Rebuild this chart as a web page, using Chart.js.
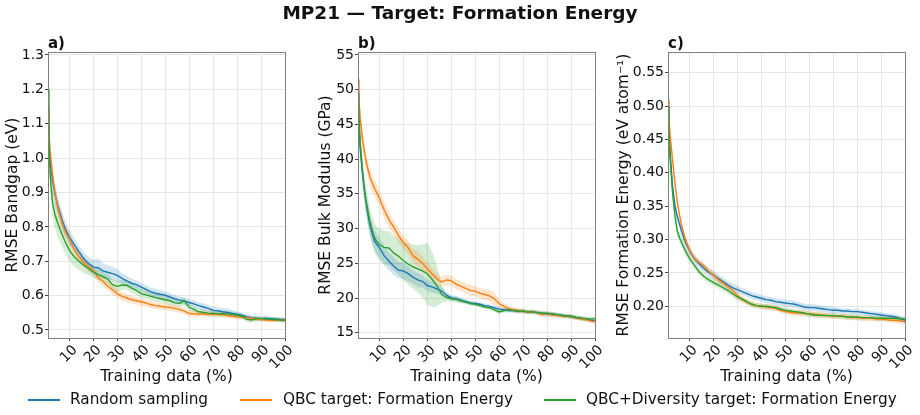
<!DOCTYPE html>
<html>
<head>
<meta charset="utf-8">
<script src="https://cdn.jsdelivr.net/npm/chart.js@4.4.1/dist/chart.umd.min.js"></script>
<style>
  body { margin: 0; background: #fff; font-family: 'DejaVu Sans', sans-serif; color: #111; }
  #wrap { position: relative; width: 920px; height: 415px; overflow: hidden; }
  canvas { position: absolute; left: 0; top: 0; }
  .txt { position: absolute; white-space: nowrap; line-height: 1; }
  #title { left: 0; top: 4px; width: 920px; text-align: center; font-weight: bold; font-size: 18.5px; }
  .panel { top: 36px; font-weight: bold; font-size: 15px; }
  .leg { top: 392px; font-size: 15.3px; }
  .sw { position: absolute; top: 399px; height: 2px; }
</style>
</head>
<body>
<div id="wrap">
  <canvas id="ca" width="920" height="415"></canvas>
  <canvas id="cb" width="920" height="415"></canvas>
  <canvas id="cc" width="920" height="415"></canvas>
  <div id="title" class="txt">MP21 — Target: Formation Energy</div>
  <div class="txt panel" style="left:48px">a)</div>
  <div class="txt panel" style="left:358px">b)</div>
  <div class="txt panel" style="left:668px">c)</div>
  <div class="sw" style="left:28px;width:32px;background:#1f77b4"></div>
  <div class="txt leg" style="left:70px">Random sampling</div>
  <div class="sw" style="left:240px;width:32px;background:#ff7f0e"></div>
  <div class="txt leg" style="left:283px">QBC target: Formation Energy</div>
  <div class="sw" style="left:544px;width:32px;background:#2ca02c"></div>
  <div class="txt leg" style="left:586px">QBC+Diversity target: Formation Energy</div>
</div>
<script>
// training data (%) at which each run was evaluated
const XS = [1.1, 1.5, 2, 3, 4, 5, 6, 7, 8, 9, 10,
  12, 14, 16, 18, 20, 22, 24, 26, 28, 30,
  32, 34, 36, 38, 40, 42, 44, 46, 48, 50,
  52, 54, 56, 58, 60, 62, 64, 66, 68, 70,
  72, 74, 76, 78, 80, 82, 84, 86, 88, 90,
  92, 94, 96, 98, 100];
const XTICKS = [10, 20, 30, 40, 50, 60, 70, 80, 90, 100];

// a) bandgap
const A_YTICKS = [0.5, 0.6, 0.7, 0.8, 0.9, 1.0, 1.1, 1.2, 1.3];
const A_RAND = [1.10, 1.03, 0.985, 0.935, 0.895, 0.867, 0.844, 0.82, 0.80, 0.785, 0.771,
  0.749, 0.728, 0.708, 0.693, 0.683, 0.681, 0.672, 0.668, 0.664, 0.659,
  0.65, 0.643, 0.636, 0.632, 0.625, 0.618, 0.611, 0.607, 0.604, 0.601,
  0.596, 0.591, 0.587, 0.584, 0.580, 0.576, 0.571, 0.567, 0.563, 0.557,
  0.556, 0.553, 0.551, 0.548, 0.546, 0.543, 0.539, 0.536, 0.534, 0.533,
  0.534, 0.533, 0.532, 0.531, 0.530];
const A_QBC = [1.15, 1.07, 1.02, 0.95, 0.90, 0.862, 0.836, 0.812, 0.792, 0.778, 0.766,
  0.735, 0.713, 0.697, 0.683, 0.674, 0.652, 0.642, 0.628, 0.617, 0.606,
  0.598, 0.593, 0.588, 0.585, 0.582, 0.578, 0.574, 0.571, 0.569, 0.567,
  0.566, 0.563, 0.56, 0.555, 0.548, 0.547, 0.546, 0.547, 0.546, 0.546,
  0.545, 0.544, 0.542, 0.540, 0.538, 0.537, 0.536, 0.534, 0.532, 0.530,
  0.529, 0.528, 0.529, 0.528, 0.528];
const A_DIV = [1.2, 1.06, 0.95, 0.87, 0.835, 0.815, 0.795, 0.778, 0.761, 0.746, 0.732,
  0.713, 0.70, 0.688, 0.679, 0.669, 0.661, 0.656, 0.648, 0.632, 0.627,
  0.631, 0.63, 0.622, 0.615, 0.606, 0.602, 0.598, 0.594, 0.591, 0.588,
  0.585, 0.579, 0.578, 0.585, 0.566, 0.560, 0.553, 0.551, 0.549, 0.548,
  0.547, 0.548, 0.547, 0.545, 0.543, 0.54, 0.531, 0.529, 0.533, 0.533,
  0.532, 0.531, 0.530, 0.529, 0.528];
const A_RAND_SD = [0.03, 0.03, 0.03, 0.03, 0.03, 0.028, 0.025, 0.025, 0.022, 0.02, 0.02,
  0.018, 0.018, 0.018, 0.02, 0.022, 0.028, 0.022, 0.02, 0.02, 0.018,
  0.015, 0.015, 0.014, 0.013, 0.012, 0.012, 0.012, 0.012, 0.012, 0.012,
  0.011, 0.011, 0.011, 0.01, 0.01, 0.01, 0.01, 0.01, 0.01, 0.01,
  0.009, 0.01, 0.012, 0.01, 0.008, 0.008, 0.008, 0.007, 0.007, 0.006,
  0.006, 0.006, 0.006, 0.006, 0.006];
const A_QBC_SD = [0.03, 0.03, 0.025, 0.02, 0.02, 0.02, 0.018, 0.016, 0.015, 0.015, 0.015,
  0.014, 0.014, 0.013, 0.013, 0.013, 0.013, 0.013, 0.013, 0.013, 0.012,
  0.012, 0.012, 0.011, 0.011, 0.011, 0.01, 0.01, 0.01, 0.01, 0.01,
  0.01, 0.01, 0.01, 0.01, 0.009, 0.009, 0.008, 0.008, 0.008, 0.008,
  0.008, 0.008, 0.007, 0.007, 0.007, 0.007, 0.007, 0.007, 0.006, 0.006,
  0.006, 0.006, 0.006, 0.006, 0.006];
const A_DIV_SD = [0.04, 0.04, 0.04, 0.04, 0.04, 0.04, 0.038, 0.036, 0.035, 0.033, 0.03,
  0.028, 0.025, 0.022, 0.02, 0.018, 0.016, 0.015, 0.016, 0.016, 0.015,
  0.015, 0.014, 0.014, 0.013, 0.013, 0.012, 0.012, 0.012, 0.011, 0.011,
  0.011, 0.011, 0.011, 0.012, 0.01, 0.01, 0.009, 0.009, 0.009, 0.008,
  0.008, 0.008, 0.008, 0.008, 0.008, 0.008, 0.008, 0.008, 0.008, 0.007,
  0.007, 0.007, 0.007, 0.007, 0.007];

// b) bulk modulus
const B_YTICKS = [15, 20, 25, 30, 35, 40, 45, 50, 55];
const B_RAND = [48, 45, 41.6, 37.8, 34.9, 32.5, 30.6, 29.3, 28.2, 27.7, 27.3,
  26.1, 25.3, 24.6, 24.0, 23.9, 23.5, 23.0, 22.6, 22.4, 21.8,
  21.6, 21.3, 21.0, 20.4, 20.0, 19.9, 19.7, 19.5, 19.3, 19.2,
  19.1, 18.9, 18.8, 18.6, 18.4, 18.3, 18.2, 18.2, 18.1, 18.1,
  18.0, 18.0, 17.9, 17.8, 17.7, 17.7, 17.6, 17.5, 17.4, 17.3,
  17.2, 17.1, 17.0, 16.8, 16.7];
const B_QBC = [51.5, 48.5, 45.9, 42.8, 40.6, 38.9, 37.5, 36.6, 35.8, 35.1, 34.4,
  32.7, 31.3, 30.2, 29.0, 28.0, 27.3, 26.1, 25.6, 25.0, 24.2,
  23.5, 22.8, 22.3, 22.6, 22.5, 22.0, 21.7, 21.4, 21.1, 21.0,
  20.7, 20.5, 20.3, 19.9, 19.2, 18.8, 18.5, 18.3, 18.2, 18.1,
  18.0, 18.0, 17.9, 17.6, 17.8, 17.5, 17.5, 17.4, 17.4, 17.3,
  17.1, 17.0, 16.9, 16.7, 16.6];
const B_DIV = [49.5, 46, 42.5, 38.2, 34.9, 33.0, 31.1, 29.8, 28.7, 28.1, 27.7,
  27.3, 27.2, 26.5, 26.0, 25.4, 24.9, 24.5, 24.2, 23.9, 23.5,
  22.7, 21.8, 20.5, 20.1, 19.9, 19.8, 19.6, 19.4, 19.2, 19.1,
  18.9, 18.7, 18.6, 18.3, 18.0, 18.2, 18.3, 18.2, 18.1, 18.1,
  18.0, 18.0, 17.9, 17.8, 17.8, 17.7, 17.6, 17.5, 17.4, 17.4,
  17.2, 17.1, 17.0, 17.0, 17.0];
const B_RAND_SD = [1.5, 1.5, 1.5, 1.5, 1.5, 1.5, 1.5, 1.5, 1.5, 1.4, 1.4,
  1.4, 1.3, 1.3, 1.2, 1.2, 1.1, 1.0, 1.0, 0.9, 0.8,
  0.8, 0.7, 0.6, 0.5, 0.4, 0.4, 0.4, 0.3, 0.3, 0.3,
  0.3, 0.3, 0.3, 0.3, 0.3, 0.3, 0.3, 0.3, 0.3, 0.3,
  0.3, 0.3, 0.3, 0.3, 0.3, 0.3, 0.3, 0.3, 0.3, 0.3,
  0.3, 0.3, 0.3, 0.3, 0.3];
const B_QBC_SD = [1.5, 1.5, 1.5, 1.4, 1.3, 1.2, 1.2, 1.2, 1.2, 1.2, 1.2,
  1.2, 1.1, 1.0, 1.0, 1.0, 1.0, 1.0, 1.1, 1.0, 0.9,
  0.8, 0.8, 0.8, 0.8, 0.7, 0.7, 0.7, 0.7, 0.8, 0.7,
  0.7, 0.8, 0.8, 0.9, 0.6, 0.5, 0.4, 0.4, 0.4, 0.3,
  0.3, 0.3, 0.3, 0.4, 0.4, 0.4, 0.3, 0.3, 0.3, 0.3,
  0.3, 0.3, 0.3, 0.3, 0.3];
const B_DIV_SD = [1.5, 1.8, 2.0, 2.0, 2.0, 2.0, 2.0, 2.0, 2.0, 2.2, 2.3,
  2.4, 2.5, 2.5, 2.6, 2.8, 3.0, 3.2, 3.4, 3.8, 4.5,
  4.0, 3.0, 1.2, 0.6, 0.4, 0.4, 0.4, 0.3, 0.3, 0.3,
  0.3, 0.3, 0.3, 0.3, 0.3, 0.3, 0.3, 0.3, 0.3, 0.3,
  0.3, 0.3, 0.3, 0.3, 0.3, 0.3, 0.3, 0.3, 0.3, 0.3,
  0.3, 0.3, 0.3, 0.3, 0.3];

// c) formation energy
const C_YTICKS = [0.20, 0.25, 0.30, 0.35, 0.40, 0.45, 0.50, 0.55];
const C_RAND = [0.50, 0.47, 0.43, 0.38, 0.35, 0.334, 0.322, 0.31, 0.299, 0.291, 0.284,
  0.272, 0.264, 0.257, 0.251, 0.247, 0.242, 0.237, 0.232, 0.228, 0.225,
  0.222, 0.219, 0.216, 0.214, 0.212, 0.210, 0.209, 0.207, 0.206, 0.205,
  0.204, 0.203, 0.201, 0.199, 0.198, 0.198, 0.197, 0.196, 0.195, 0.194,
  0.194, 0.193, 0.193, 0.192, 0.192, 0.191, 0.190, 0.189, 0.188, 0.187,
  0.186, 0.185, 0.184, 0.182, 0.179];
const C_QBC = [0.51, 0.48, 0.455, 0.42, 0.385, 0.355, 0.335, 0.318, 0.305, 0.294, 0.285,
  0.272, 0.266, 0.261, 0.253, 0.247, 0.240, 0.235, 0.230, 0.224, 0.216,
  0.210, 0.206, 0.203, 0.201, 0.200, 0.199, 0.198, 0.197, 0.194, 0.192,
  0.191, 0.190, 0.190, 0.189, 0.189, 0.188, 0.187, 0.187, 0.186, 0.185,
  0.185, 0.185, 0.184, 0.183, 0.183, 0.182, 0.182, 0.182, 0.181, 0.181,
  0.180, 0.179, 0.179, 0.178, 0.177];
const C_DIV = [0.50, 0.46, 0.42, 0.37, 0.335, 0.312, 0.302, 0.294, 0.286, 0.279, 0.272,
  0.262, 0.252, 0.245, 0.240, 0.236, 0.232, 0.228, 0.224, 0.219, 0.214,
  0.211, 0.207, 0.203, 0.201, 0.200, 0.200, 0.199, 0.198, 0.196, 0.194,
  0.193, 0.192, 0.191, 0.190, 0.188, 0.187, 0.187, 0.186, 0.186, 0.186,
  0.185, 0.185, 0.184, 0.184, 0.184, 0.183, 0.183, 0.183, 0.182, 0.182,
  0.182, 0.182, 0.182, 0.181, 0.181];
const C_RAND_SD = [0.01, 0.01, 0.008, 0.008, 0.008, 0.007, 0.007, 0.007, 0.007, 0.007, 0.007,
  0.006, 0.006, 0.006, 0.006, 0.006, 0.006, 0.006, 0.006, 0.006, 0.006,
  0.005, 0.005, 0.005, 0.005, 0.005, 0.005, 0.005, 0.005, 0.005, 0.005,
  0.005, 0.005, 0.005, 0.005, 0.005, 0.005, 0.005, 0.005, 0.005, 0.005,
  0.004, 0.004, 0.004, 0.004, 0.004, 0.004, 0.004, 0.004, 0.004, 0.004,
  0.004, 0.004, 0.004, 0.004, 0.004];
const C_QBC_SD = [0.012, 0.01, 0.008, 0.007, 0.006, 0.006, 0.006, 0.005, 0.005, 0.005, 0.005,
  0.005, 0.005, 0.005, 0.005, 0.005, 0.005, 0.005, 0.005, 0.005, 0.005,
  0.004, 0.004, 0.004, 0.004, 0.004, 0.004, 0.004, 0.004, 0.004, 0.004,
  0.004, 0.004, 0.004, 0.004, 0.004, 0.004, 0.004, 0.004, 0.004, 0.004,
  0.004, 0.004, 0.004, 0.004, 0.004, 0.004, 0.004, 0.004, 0.004, 0.004,
  0.004, 0.004, 0.004, 0.004, 0.004];
const C_DIV_SD = [0.01, 0.01, 0.008, 0.008, 0.008, 0.008, 0.007, 0.007, 0.006, 0.006, 0.006,
  0.005, 0.005, 0.005, 0.005, 0.005, 0.005, 0.005, 0.005, 0.005, 0.005,
  0.004, 0.004, 0.004, 0.004, 0.004, 0.004, 0.004, 0.004, 0.004, 0.004,
  0.004, 0.004, 0.004, 0.004, 0.004, 0.004, 0.004, 0.004, 0.004, 0.004,
  0.004, 0.004, 0.004, 0.004, 0.004, 0.004, 0.004, 0.004, 0.004, 0.004,
  0.004, 0.004, 0.004, 0.004, 0.004];

const BLUE = '#1f77b4', ORANGE = '#ff7f0e', GREEN = '#2ca02c';
const BLUE_F = 'rgba(31,119,180,0.2)', ORANGE_F = 'rgba(255,127,14,0.2)', GREEN_F = 'rgba(44,160,44,0.2)';

Chart.defaults.font.family = "'DejaVu Sans', sans-serif";
Chart.defaults.color = '#111';

// box round the plot area, like matplotlib spines
const frame = {
  id: 'frame',
  afterDraw(chart) {
    const a = chart.chartArea, c = chart.ctx;
    c.save();
    c.strokeStyle = '#808080';
    c.lineWidth = 1;
    c.strokeRect(Math.round(a.left) + 0.5, Math.round(a.top) + 0.5, Math.round(a.right - a.left), Math.round(a.bottom - a.top));
    c.restore();
  }
};

function pts(ys) {
  return XS.map((x, i) => ({x: x, y: ys[i]}));
}

function line(ys, color) {
  return {data: pts(ys), borderColor: color, borderWidth: 1.4, pointRadius: 0, tension: 0, fill: false};
}

function band(ys, sd, fillColor) {
  let lo = ys.map((v, i) => v - sd[i]);
  let hi = ys.map((v, i) => v + sd[i]);
  return [
    {data: pts(lo), borderWidth: 0, pointRadius: 0, fill: false},
    {data: pts(hi), borderWidth: 0, pointRadius: 0, fill: '-1', backgroundColor: fillColor}
  ];
}

function makeChart(id, p) {
  let datasets = [
    line(p.div, GREEN), line(p.qbc, ORANGE), line(p.rand, BLUE),
    ...band(p.rand, p.randSd, BLUE_F),
    ...band(p.qbc, p.qbcSd, ORANGE_F),
    ...band(p.div, p.divSd, GREEN_F)
  ];
  return new Chart(document.getElementById(id), {
    type: 'line',
    data: {datasets: datasets},
    options: {
      responsive: false,
      animation: false,
      devicePixelRatio: 1,
      layout: {padding: {left: p.left - p.axisW, right: 920 - p.right, top: 52, bottom: 25}},
      plugins: {legend: {display: false}, tooltip: {enabled: false}},
      scales: {
        x: {
          type: 'linear', min: 1.1, max: 100,
          afterBuildTicks: s => { s.ticks = XTICKS.map(v => ({value: v})); },
          afterFit: s => { s.height = 52; },
          ticks: {autoSkip: false, minRotation: 45, maxRotation: 45, padding: 1, labelOffset: 6, font: {size: 14}},
          grid: {color: '#e6e6e6', tickLength: 3, tickColor: '#444'},
          border: {display: false},
          title: {display: true, text: 'Training data (%)', font: {size: 15.5}}
        },
        y: {
          type: 'linear', min: p.ymin, max: p.ymax,
          afterBuildTicks: s => { s.ticks = p.yticks.map(v => ({value: v})); },
          afterFit: s => { s.width = p.axisW; },
          ticks: {padding: 1, font: {size: 14}, callback: v => v.toFixed(p.dec)},
          grid: {color: '#e6e6e6', tickLength: 3, tickColor: '#444'},
          border: {display: false},
          title: {display: true, text: p.ytitle, font: {size: 15.5}}
        }
      }
    },
    plugins: [frame]
  });
}

makeChart('ca', {left: 48, right: 285, axisW: 48, ymin: 0.4767, ymax: 1.3087, yticks: A_YTICKS, dec: 1,
  ytitle: 'RMSE Bandgap (eV)', rand: A_RAND, qbc: A_QBC, div: A_DIV, randSd: A_RAND_SD, qbcSd: A_QBC_SD, divSd: A_DIV_SD});
makeChart('cb', {left: 358, right: 595, axisW: 45, ymin: 14.24, ymax: 55.43, yticks: B_YTICKS, dec: 0,
  ytitle: 'RMSE Bulk Modulus (GPa)', rand: B_RAND, qbc: B_QBC, div: B_DIV, randSd: B_RAND_SD, qbcSd: B_QBC_SD, divSd: B_DIV_SD});
makeChart('cc', {left: 668, right: 905, axisW: 57, ymin: 0.1525, ymax: 0.581, yticks: C_YTICKS, dec: 2,
  ytitle: 'RMSE Formation Energy (eV atom⁻¹)', rand: C_RAND, qbc: C_QBC, div: C_DIV, randSd: C_RAND_SD, qbcSd: C_QBC_SD, divSd: C_DIV_SD});
</script>
</body>
</html>
